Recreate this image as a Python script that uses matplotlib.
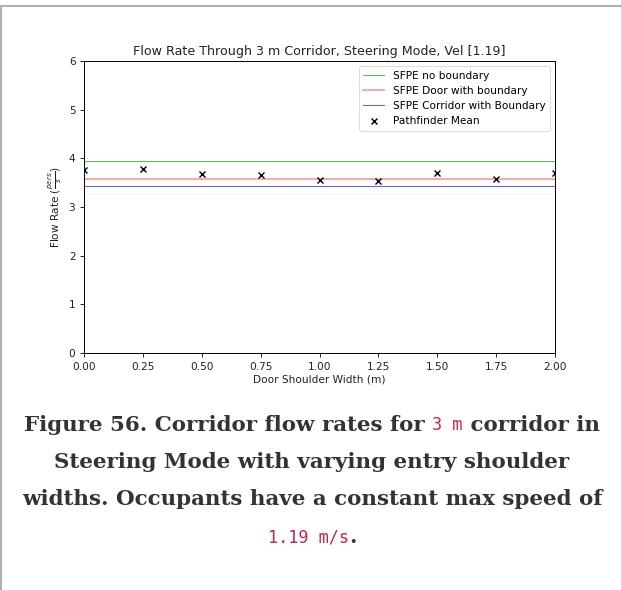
import matplotlib.pyplot as plt
from matplotlib.lines import Line2D

# data
shoulder = [0.0, 0.25, 0.5, 0.75, 1.0, 1.25, 1.5, 1.75, 2.0]
pathfinder_mean = [3.77, 3.78, 3.67, 3.66, 3.55, 3.53, 3.70, 3.57, 3.69]
sfpe_no_boundary = 3.95
sfpe_door = 3.57
sfpe_corridor = 3.44
faint_level = 3.26

fs = 7.6
fig = plt.figure(figsize=(6.21, 5.90), dpi=100)
ax = fig.add_axes([84/621, 1-353/590, (555-84)/621, (353-61)/590])

xs = [shoulder[0], shoulder[-1]]
ax.plot(xs, [sfpe_no_boundary]*2, color='#3aa63a', lw=0.8, alpha=0.8, label='SFPE no boundary')
ax.plot(xs, [sfpe_door]*2, color='r', lw=1.4, alpha=0.35, label='SFPE Door with boundary')
ax.plot(xs, [sfpe_corridor]*2, color='b', lw=0.8, alpha=0.6, label='SFPE Corridor with Boundary')
ax.plot(xs, [faint_level]*2, color='#f3eeb8', lw=0.8, alpha=0.5)
ax.plot(shoulder, pathfinder_mean, 'x', color='k', ms=5, mew=1, label='Pathfinder Mean')

ax.set_xlim(0, 2)
ax.set_ylim(0, 6)
ax.set_xticks([0, 0.25, 0.5, 0.75, 1.0, 1.25, 1.5, 1.75, 2.0])
ax.tick_params(labelsize=fs, length=2.7, width=0.6, labelcolor='#222222')
for s in ax.spines.values():
    s.set_linewidth(0.7)
ax.set_title('Flow Rate Through 3 m Corridor, Steering Mode, Vel [1.19]', fontsize=9.1, pad=4, color='#222222')
ax.set_xlabel('Door Shoulder Width (m)', fontsize=fs, labelpad=2, color='#222222')
ax.set_ylabel(r'Flow Rate ($\frac{pers}{s}$)', fontsize=fs, labelpad=3, color='#222222')
leg = ax.legend(loc='upper right', fontsize=fs)
leg.get_frame().set_linewidth(0.6)

# page frame lines (top and left)
fig.add_artist(Line2D([0, 1], [1-5.5/590]*2, transform=fig.transFigure, color='#b0b0b0', lw=1.5))
fig.add_artist(Line2D([0.8/621]*2, [0, 1-5.5/590], transform=fig.transFigure, color='#b0b0b0', lw=1.5))

# caption with mixed fonts
serif = dict(family='DejaVu Serif', weight='bold', color='#333333', size=15.4)
mono = dict(family='DejaVu Sans Mono', weight='normal', color='#c7254e', size=12.2)
caption = [
    (425, [('Figure 56. Corridor flow rates for ', serif), ('3 m', mono), (' corridor in', serif)]),
    (462, [('Steering Mode with varying entry shoulder', serif)]),
    (499, [('widths. Occupants have a constant max speed of', serif)]),
    (537, [('1.19 m/s', mono), ('.', serif)]),
]
renderer = fig.canvas.get_renderer()
cx = 312
for ypix, parts in caption:
    texts = []
    for s, st in parts:
        t = fig.text(0, 1-ypix/590, s, va='center', ha='left', **st)
        texts.append(t)
    widths = [t.get_window_extent(renderer).width for t in texts]
    x = cx - sum(widths)/2
    for t, w in zip(texts, widths):
        t.set_x(x/621)
        x += w

fig.savefig('out.png', dpi=100)
